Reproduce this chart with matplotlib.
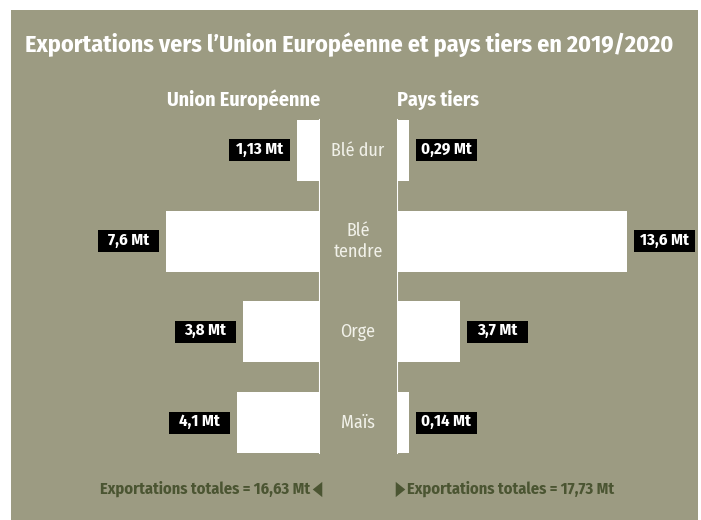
from matplotlib import pyplot as plt
from matplotlib import font_manager, patches, transforms
from matplotlib.lines import Line2D
import numpy as np

# donnees (Mt)
categories = ['Blé dur', 'Blé\ntendre', 'Orge', 'Maïs']
union_europeenne = [1.13, 7.6, 3.8, 4.1]
pays_tiers = [0.29, 13.6, 3.7, 0.14]
labels_ue = ['1,13 Mt', '7,6 Mt', '3,8 Mt', '4,1 Mt']
labels_pt = ['0,29 Mt', '13,6 Mt', '3,7 Mt', '0,14 Mt']
total_ue = '16,63 Mt'
total_pt = '17,73 Mt'

OLIVE = '#9c9b82'
DARK = '#4b5532'
W, H = 701, 520

installed = {f.name for f in font_manager.fontManager.ttflist}
font = 'DejaVu Sans'
for name in ['Fira Sans Condensed', 'Roboto Condensed', 'Liberation Sans Narrow', 'Open Sans', 'Roboto']:
    if name in installed:
        font = name
        break
plt.rcParams['font.family'] = [font, 'DejaVu Sans']

fig = plt.figure(figsize=(W / 100, H / 100), dpi=100, facecolor='white')
fig.patches.append(patches.Rectangle((11 / W, 0), 687 / W, 510 / H, transform=fig.transFigure,
                                     facecolor=OLIVE, edgecolor='none', zorder=-5))

def fx(px):
    return px / W

def fy(py):
    return 1 - py / H

# axes : gauche (UE) et droite (pays tiers)
bottom, top = fy(468), fy(105)
axL = fig.add_axes([fx(60), bottom, fx(320) - fx(60), top - bottom])
axR = fig.add_axes([fx(397), bottom, fx(660) - fx(397), top - bottom])
for ax in (axL, axR):
    ax.set_zorder(2)
    ax.set_facecolor('none')
    ax.axis('off')
    ax.set_ylim(3.5, -0.5)
axL.set_xlim(260 / 20.3, 0)
axR.set_xlim(0, 263 / 16.9)

y = np.arange(len(categories))
min_len = 0.7
axL.barh(y, np.maximum(union_europeenne, min_len), height=0.67, color='white', zorder=2)
axR.barh(y, np.maximum(pays_tiers, min_len), height=0.67, color='white', zorder=2)
for ax in (axL, axR):
    ax.axvline(0, ymin=0.041, ymax=0.959, color='white', lw=1.5, zorder=3)

box_w, box_h, gap = 61, 22, 7

def value_box(ax, x, yy, text, side):
    off = transforms.ScaledTranslation(x, yy, ax.transData)
    if side < 0:
        x0 = -(gap + box_w)
    else:
        x0 = gap
    rect = patches.Rectangle((x0, -box_h / 2), box_w, box_h, transform=transforms.IdentityTransform() + off,
                             facecolor='black', edgecolor='none', clip_on=False, zorder=4)
    ax.add_patch(rect)
    ax.annotate(text, xy=(x, yy), xytext=(x0 + box_w / 2, 1), textcoords='offset pixels',
                ha='center', va='center', color='white', fontsize=12, fontweight='bold', zorder=5)

for i in range(len(categories)):
    value_box(axL, max(union_europeenne[i], min_len), i, labels_ue[i], -1)
    value_box(axR, max(pays_tiers[i], min_len), i, labels_pt[i], 1)

mid = transforms.blended_transform_factory(fig.transFigure, axL.transData)
for i, cat in enumerate(categories):
    axL.text(fx(358), i, cat, transform=mid, ha='center', va='center', color='#f1f1e9',
             fontsize=13, linespacing=1.25, clip_on=False)

fig.text(fx(25), fy(45), 'Exportations vers l\u2019Union Européenne et pays tiers en 2019/2020',
         ha='left', va='center', color='white', fontsize=17.3, fontweight='bold')
fig.text(fx(320), fy(100), 'Union Européenne', ha='right', va='center', color='white',
         fontsize=14.4, fontweight='bold')
fig.text(fx(397), fy(100), 'Pays tiers', ha='left', va='center', color='white',
         fontsize=14.4, fontweight='bold')

fig.text(fx(310), fy(489), 'Exportations totales = ' + total_ue, ha='right', va='center',
         color=DARK, fontsize=11.8, fontweight='bold')
fig.text(fx(407), fy(489), 'Exportations totales = ' + total_pt, ha='left', va='center',
         color=DARK, fontsize=11.8, fontweight='bold')
tri_left = [(1, -1.6), (1, 1.6), (-1, 0), (1, -1.6)]
tri_right = [(-1, -1.6), (-1, 1.6), (1, 0), (-1, -1.6)]
for px, verts in ((317, tri_left), (400, tri_right)):
    fig.add_artist(Line2D([fx(px)], [fy(489)], transform=fig.transFigure, marker=verts,
                          markersize=11, color=DARK, markeredgewidth=0, linestyle='none'))

fig.savefig('out.png', dpi=100, facecolor='white')
